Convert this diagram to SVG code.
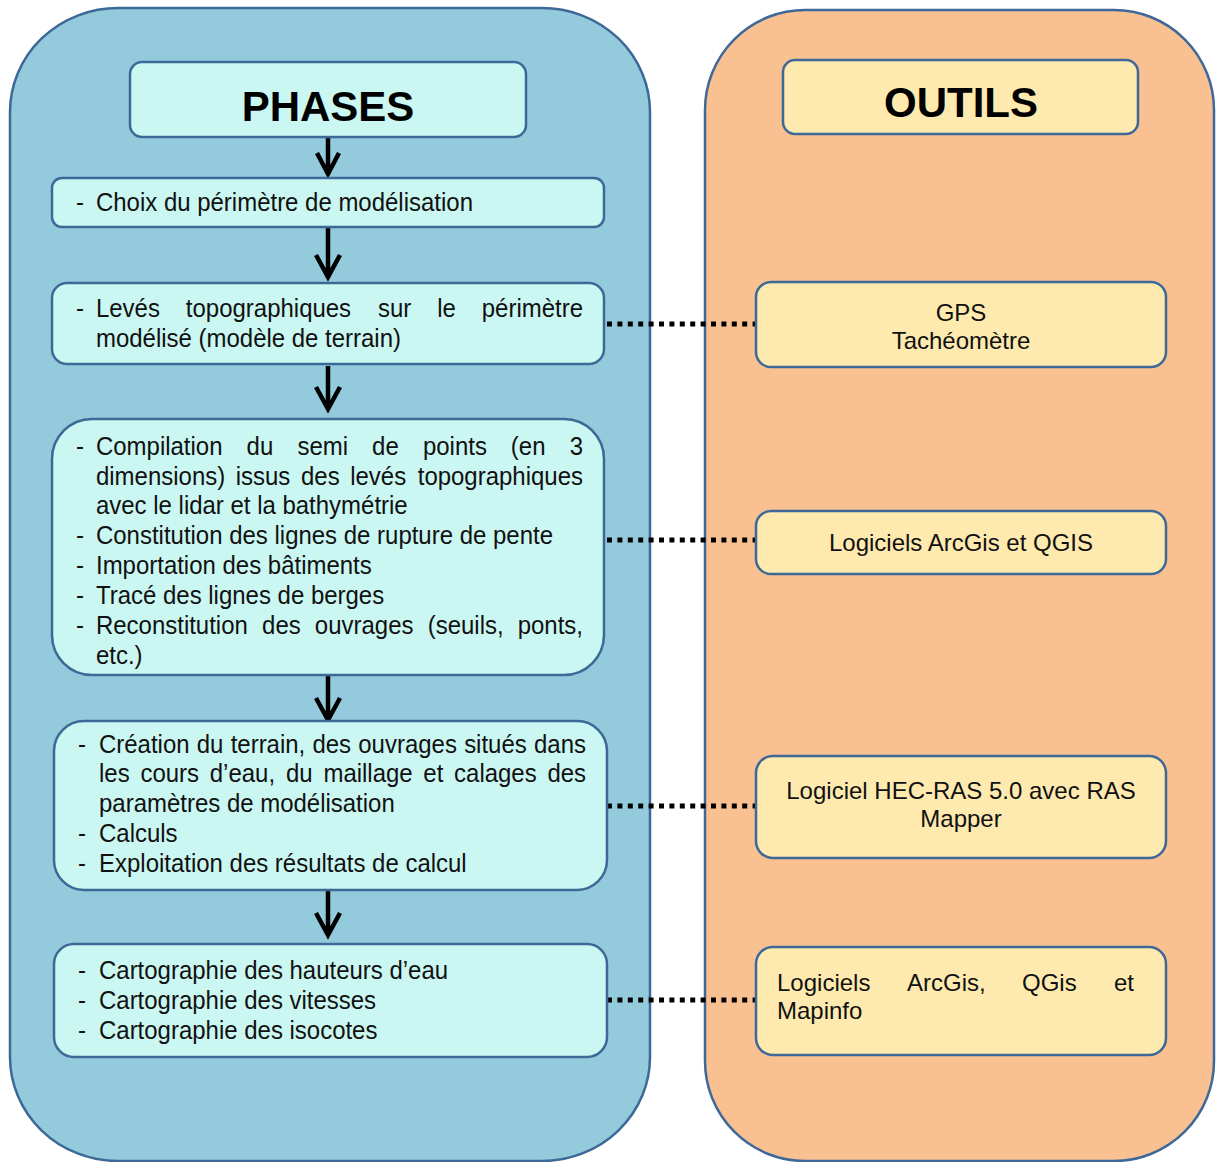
<svg xmlns="http://www.w3.org/2000/svg" width="1216" height="1162" viewBox="0 0 1216 1162">
<style>
.panel{stroke:#3d6898;stroke-width:2.5}
.pbox{fill:#cbf7f2;stroke:#3d6898;stroke-width:2.5}
.tbox{fill:#feeaae;stroke:#3d6898;stroke-width:2.5}
.title{font-family:"Liberation Sans",Arial,sans-serif;font-weight:bold;font-size:42px;fill:#000;text-anchor:middle}
.lt{font-family:"Liberation Sans",Arial,sans-serif;font-size:26px;fill:#111}
.rt{font-family:"Liberation Sans",Arial,sans-serif;font-size:24px;fill:#111}
.c{text-anchor:middle}
.e{text-anchor:end}
.arrow{stroke:#000;stroke-width:4.5;fill:none}
.dot{stroke:#000;stroke-width:5;stroke-dasharray:5 5.4;fill:none}
</style>
<g id="panel-phases"><rect class="panel" x="10" y="8" width="640" height="1153" rx="108" ry="104" fill="#93cbdc"/></g>
<g id="panel-outils"><rect class="panel" x="705" y="10" width="509" height="1151" rx="100" ry="100" fill="#f9c091"/></g>

<g id="connectors">
  <path class="arrow" d="M328 137V173M317 153L328 174L339 153"/>
  <path class="arrow" d="M328 228V276M316 255L328 277L340 255"/>
  <path class="arrow" d="M328 366V408M316 387L328 409L340 387"/>
  <path class="arrow" d="M328 676V719M316 698L328 720L340 698"/>
  <path class="arrow" d="M328 891V934M316 913L328 935L340 913"/>
  <path class="dot" d="M607 324H755"/>
  <path class="dot" d="M607 540H755"/>
  <path class="dot" d="M607 806H755"/>
  <path class="dot" d="M607 1000H755"/>
</g>

<g id="phases-title"><rect class="pbox" x="130" y="62" width="396" height="75" rx="12"/><text class="title" x="328" y="121">PHASES</text></g>

<g id="phase-1"><rect class="pbox" x="52" y="178" width="552" height="49" rx="10"/>
<g transform="scale(0.922 1)" class="lt"><text x="82.4" y="211">-</text><text x="104.1" y="211">Choix du périmètre de modélisation</text></g></g>

<g id="phase-2"><rect class="pbox" x="52" y="283" width="552" height="81" rx="15"/>
<g transform="scale(0.922 1)" class="lt">
<text x="82.4" y="317">-</text>
<text y="317"><tspan x="104.1">Levés</tspan><tspan x="201.6">topographiques</tspan><tspan x="410">sur</tspan><tspan x="474.3">le</tspan></text><text class="e" x="632.3" y="317">périmètre</text>
<text x="104.1" y="347">modélisé (modèle de terrain)</text>
</g></g>

<g id="phase-3"><rect class="pbox" x="52" y="419" width="552" height="256" rx="40"/>
<g transform="scale(0.922 1)" class="lt">
<text x="82.4" y="455">-</text>
<text y="455"><tspan x="104.1">Compilation</tspan><tspan x="267.5">du</tspan><tspan x="322.6">semi</tspan><tspan x="403.6">de</tspan><tspan x="458.7">points</tspan><tspan x="554.1">(en</tspan></text><text class="e" x="632.3" y="455">3</text>
<text y="485"><tspan x="104.1">dimensions)</tspan><tspan x="255.7">issus</tspan><tspan x="326.5">des</tspan><tspan x="379.8">levés</tspan></text><text class="e" x="632.3" y="485">topographiques</text>
<text x="104.1" y="514">avec le lidar et la bathymétrie</text>
<text x="82.4" y="544">-</text><text x="104.1" y="544">Constitution des lignes de rupture de pente</text>
<text x="82.4" y="574">-</text><text x="104.1" y="574">Importation des bâtiments</text>
<text x="82.4" y="604">-</text><text x="104.1" y="604">Tracé des lignes de berges</text>
<text x="82.4" y="634">-</text>
<text y="634"><tspan x="104.1">Reconstitution</tspan><tspan x="284.3">des</tspan><tspan x="341.5">ouvrages</tspan><tspan x="463.9">(seuils,</tspan></text><text class="e" x="632.3" y="634">ponts,</text>
<text x="104.1" y="664">etc.)</text>
</g></g>

<g id="phase-4"><rect class="pbox" x="54" y="721" width="553" height="169" rx="30"/>
<g transform="scale(0.922 1)" class="lt">
<text x="84.6" y="753">-</text>
<text y="753"><tspan x="107.4">Création</tspan><tspan x="213.4">du</tspan><tspan x="250.2">terrain,</tspan><tspan x="338.9">des</tspan><tspan x="388.6">ouvrages</tspan><tspan x="503.4">situés</tspan></text><text class="e" x="635.6" y="753">dans</text>
<text y="782"><tspan x="107.4">les</tspan><tspan x="152.3">cours</tspan><tspan x="227.5">d’eau,</tspan><tspan x="310.1">du</tspan><tspan x="350.8">maillage</tspan><tspan x="459.2">et</tspan><tspan x="492.5">calages</tspan></text><text class="e" x="635.6" y="782">des</text>
<text x="107.4" y="812">paramètres de modélisation</text>
<text x="84.6" y="842">-</text><text x="107.4" y="842">Calculs</text>
<text x="84.6" y="872">-</text><text x="107.4" y="872">Exploitation des résultats de calcul</text>
</g></g>

<g id="phase-5"><rect class="pbox" x="54" y="944" width="553" height="113" rx="20"/>
<g transform="scale(0.922 1)" class="lt">
<text x="84.6" y="979">-</text><text x="107.4" y="979">Cartographie des hauteurs d’eau</text>
<text x="84.6" y="1009">-</text><text x="107.4" y="1009">Cartographie des vitesses</text>
<text x="84.6" y="1039">-</text><text x="107.4" y="1039">Cartographie des isocotes</text>
</g></g>

<g id="outils-title"><rect class="tbox" x="783" y="60" width="355" height="74" rx="12"/><text class="title" x="961" y="117">OUTILS</text></g>

<g id="outil-1"><rect class="tbox" x="756" y="282" width="410" height="85" rx="15"/>
<text class="rt c" x="961" y="321">GPS</text><text class="rt c" x="961" y="349">Tachéomètre</text></g>

<g id="outil-2"><rect class="tbox" x="756" y="511" width="410" height="63" rx="15"/>
<text class="rt c" x="961" y="551">Logiciels ArcGis et QGIS</text></g>

<g id="outil-3"><rect class="tbox" x="756" y="756" width="410" height="102" rx="17"/>
<text class="rt c" x="961" y="799">Logiciel HEC-RAS 5.0 avec RAS</text><text class="rt c" x="961" y="827">Mapper</text></g>

<g id="outil-4"><rect class="tbox" x="756" y="947" width="410" height="108" rx="17"/>
<text class="rt" y="991"><tspan x="777">Logiciels</tspan><tspan x="907">ArcGis,</tspan><tspan x="1022">QGis</tspan></text><text class="rt e" x="1134" y="991">et</text>
<text class="rt" x="777" y="1019">Mapinfo</text></g>
</svg>
